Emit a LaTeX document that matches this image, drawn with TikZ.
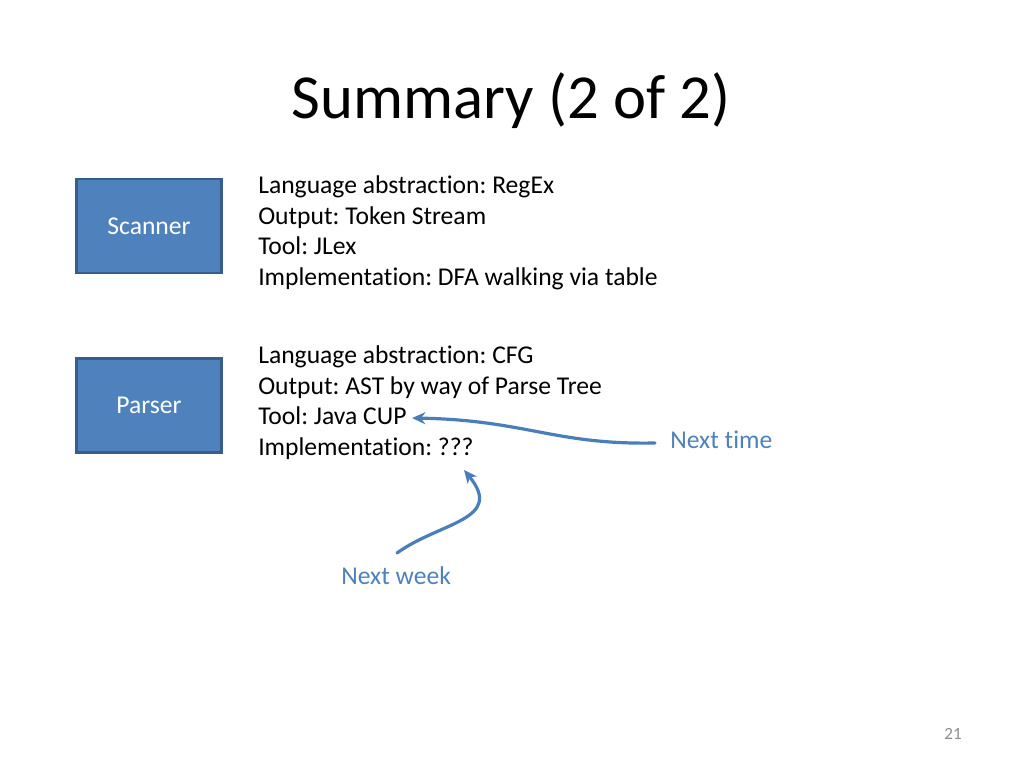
\documentclass[tikz,border=0pt]{standalone}
\usepackage{fontspec}
\setmainfont{Carlito}[Ligatures={NoCommon}]
\usetikzlibrary{arrows.meta}
\definecolor{boxfill}{HTML}{4F81BD}
\definecolor{boxline}{HTML}{385D8A}
\definecolor{arrowc}{HTML}{4A7EBB}
\definecolor{pgnum}{HTML}{8C8C8C}
\frenchspacing
\begin{document}
\begin{tikzpicture}[x=0.75pt,y=-0.75pt,
  stagebox/.style={draw=boxline,line width=1.6pt,fill=boxfill,minimum width=145*0.75pt,minimum height=94*0.75pt,inner sep=0pt,text=white,font=\fontsize{19.2}{23}\selectfont},
  body/.style={anchor=base west,inner sep=0pt,font=\fontsize{19.2}{23}\selectfont},
  note/.style={anchor=base west,inner sep=0pt,text=boxfill,font=\fontsize{19.2}{23}\selectfont},
  curvy/.style={draw=arrowc,line width=2.4pt,line cap=round,-{Stealth[length=10pt,width=9pt]}}]
\useasboundingbox (0,0) rectangle (1024,768);
\fill[white] (0,0) rectangle (1024,768);
\node[anchor=base,inner sep=0pt,font=\fontsize{47}{56}\selectfont] (title) at (511,118) {Summary (2 of 2)};
\node[stagebox] (scanner) at (149,226) {Scanner};
\node[stagebox] (parser) at (149,405.5) {Parser};
\node[body] (s1) at (258,193) {Language abstraction: RegEx};
\node[body] (s2) at (258,224) {Output: Token Stream};
\node[body] (s3) at (258,254) {Tool: JLex};
\node[body] (s4) at (258,285) {Implementation: DFA walking via table};
\node[body] (p1) at (258,363) {Language abstraction: CFG};
\node[body] (p2) at (258,394) {Output: AST by way of Parse Tree};
\node[body] (p3) at (258,424) {Tool: Java CUP};
\node[body] (p4) at (258,455) {Implementation: ???};
\node[note] (nt) at (670,448) {Next time};
\node[note] (nw) at (341,584) {Next week};
\node[anchor=base,inner sep=0pt,text=pgnum,font=\fontsize{12.8}{15}\selectfont] (pg) at (953,739) {21};
\coordinate (a1s) at (655,443);
\coordinate (a1e) at (412,418);
\coordinate (a2s) at (397,553);
\coordinate (a2e) at (464,470);
\draw[curvy] (a1s) .. controls (555,445) and (525,420) .. (a1e);
\draw[curvy] (a2s) .. controls (440,522) and (505,520) .. (a2e);
\end{tikzpicture}
\end{document}
